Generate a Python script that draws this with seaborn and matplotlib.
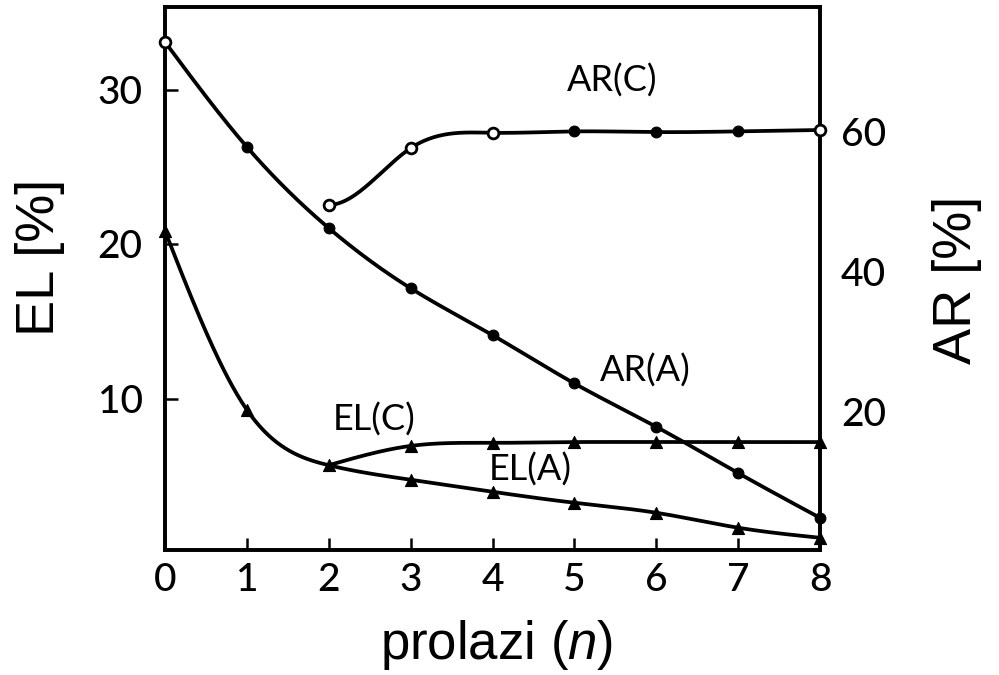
import numpy as np
import pandas as pd
import matplotlib
matplotlib.use("Agg")
import matplotlib.pyplot as plt
import seaborn as sns

# ---------------- data ----------------
passes = [0, 1, 2, 3, 4, 5, 6, 7, 8]
ar_a = [72.9, 57.9, 46.3, 37.7, 31.0, 24.1, 17.9, 11.3, 4.9]
el_a = [20.9, 9.3, 5.7, 4.76, 3.98, 3.27, 2.62, 1.65, 1.0]
passes_c = [2, 3, 4, 5, 6, 7, 8]
ar_c = [49.6, 57.7, 59.9, 60.1, 60.0, 60.1, 60.3]
el_c = [5.7, 6.95, 7.15, 7.2, 7.2, 7.2, 7.2]
xticks = [0, 1, 2, 3, 4, 5, 6, 7, 8]
el_ticks = [10, 20, 30]
ar_ticks = [20, 40, 60]

# marker styles (True = open marker)
ar_a_open = [True] + [False] * 8
ar_c_open = [True, True, True, False, False, False, True]


def spline(x, y, xs, start_slope=None):
    x = np.asarray(x, float); y = np.asarray(y, float)
    n = len(x); h = np.diff(x)
    A = np.zeros((n, n)); b = np.zeros(n)
    for i in range(1, n - 1):
        A[i, i - 1] = h[i - 1]; A[i, i] = 2 * (h[i - 1] + h[i]); A[i, i + 1] = h[i]
        b[i] = 3 * ((y[i + 1] - y[i]) / h[i] - (y[i] - y[i - 1]) / h[i - 1])
    if start_slope is None:
        A[0, 0] = 1
    else:
        A[0, 0] = 2 * h[0]; A[0, 1] = h[0]
        b[0] = 3 * ((y[1] - y[0]) / h[0] - start_slope)
    A[-1, -1] = 1
    c = np.linalg.solve(A, b)
    bc = (y[1:] - y[:-1]) / h - h * (2 * c[:-1] + c[1:]) / 3
    d = (c[1:] - c[:-1]) / (3 * h)
    idx = np.clip(np.searchsorted(x, xs, side="right") - 1, 0, n - 2)
    t = xs - x[idx]
    return y[idx] + bc[idx] * t + c[idx] * t ** 2 + d[idx] * t ** 3


def smooth(x, y, name, start_slope=None):
    xs = np.linspace(x[0], x[-1], 300)
    return pd.DataFrame({"x": xs, "y": spline(x, y, xs, start_slope), "series": name})


el_df = pd.concat([smooth(passes, el_a, "EL(A)"), smooth(passes_c, el_c, "EL(C)")])
ar_df = pd.concat([smooth(passes, ar_a, "AR(A)"), smooth(passes_c, ar_c, "AR(C)", start_slope=0.0)])

# ---------------- style ----------------
sns.set_style("white")
plt.rcParams.update({
    "font.family": ["Liberation Sans", "DejaVu Sans"],
    "text.color": "black",
    "axes.labelcolor": "black",
    "xtick.color": "black",
    "ytick.color": "black",
    "xtick.bottom": True,
    "ytick.left": True,
    "xtick.direction": "in",
    "ytick.direction": "in",
    "xtick.major.size": 9,
    "ytick.major.size": 9,
    "xtick.major.width": 1.8,
    "ytick.major.width": 1.8,
    "axes.axisbelow": False,
    "mathtext.fontset": "custom",
    "mathtext.it": "Liberation Sans:italic",
    "mathtext.rm": "Liberation Sans",
})

fig = plt.figure(figsize=(9.99, 6.75), dpi=100)
ax = fig.add_axes([0.165, 0.185, 0.656, 0.805])
ax2 = ax.twinx()

lw = 2.7
pal_el = {"EL(A)": "black", "EL(C)": "black"}
pal_ar = {"AR(A)": "black", "AR(C)": "black"}
sns.lineplot(data=el_df, x="x", y="y", hue="series", palette=pal_el, estimator=None,
             sort=False, linewidth=lw, legend=False, ax=ax)
sns.lineplot(data=ar_df, x="x", y="y", hue="series", palette=pal_ar, estimator=None,
             sort=False, linewidth=lw, legend=False, ax=ax2)

# markers
tri_kw = dict(marker="^", s=75, color="black", edgecolor="black", linewidth=0.8,
              clip_on=False, zorder=5, legend=False)
sns.scatterplot(x=passes, y=el_a, ax=ax, **tri_kw)
sns.scatterplot(x=passes_c[1:], y=el_c[1:], ax=ax, **tri_kw)


def circles(xv, yv, open_flags, axis):
    xf = [a for a, o in zip(xv, open_flags) if not o]
    yf = [b for b, o in zip(yv, open_flags) if not o]
    xo = [a for a, o in zip(xv, open_flags) if o]
    yo = [b for b, o in zip(yv, open_flags) if o]
    if xf:
        sns.scatterplot(x=xf, y=yf, ax=axis, marker="o", s=60, color="black",
                        edgecolor="black", linewidth=0.8, clip_on=False, zorder=5, legend=False)
    if xo:
        sns.scatterplot(x=xo, y=yo, ax=axis, marker="o", s=60, color="white",
                        edgecolor="black", linewidth=2.0, clip_on=False, zorder=6, legend=False)


circles(passes, ar_a, ar_a_open, ax2)
circles(passes_c, ar_c, ar_c_open, ax2)

# axes limits / ticks
ax.set_xlim(0, 8)
ax.set_ylim(0.2, 35.4)
ax2.set_ylim(0.3, 77.9)

tick_font = {"family": ["Lato", "DejaVu Sans"], "size": 28, "weight": "medium"}
ax.set_xticks(xticks)
ax.set_xticklabels([str(v) for v in xticks], fontdict=tick_font)
ax.set_yticks(el_ticks)
ax.set_yticklabels([str(v) for v in el_ticks], fontdict=tick_font)
ax2.set_yticks(ar_ticks)
ax2.set_yticklabels([str(v) for v in ar_ticks], fontdict=tick_font)

ax.tick_params(axis="x", which="major", direction="in", length=9, width=1.8, pad=9,
               bottom=True, top=False)
ax.tick_params(axis="y", which="major", direction="in", length=9, width=1.8, pad=16,
               left=True, right=False)
ax2.tick_params(axis="y", direction="in", length=0, pad=15, right=True, left=False)

for a in (ax, ax2):
    for s in a.spines.values():
        s.set_linewidth(2.6)
        s.set_color("black")

ax.set_xlabel("")
ax.set_ylabel("")
ax2.set_ylabel("")
fig.text(0.497, 0.045, "prolazi ($\\mathit{n}$)", fontsize=38, ha="center", va="center")
fig.text(0.040, 0.618, "EL [%]", fontsize=39, rotation=90, ha="center", va="center")
fig.text(0.958, 0.585, "AR [%]", fontsize=39, rotation=90, ha="center", va="center")

lab_font = dict(fontsize=26, ha="center", va="center", family=["Lato", "DejaVu Sans"])
ax2.text(5.46, 67.4, "AR(C)", **lab_font)
ax2.text(5.86, 26.0, "AR(A)", **lab_font)
ax.text(2.56, 8.64, "EL(C)", **lab_font)
ax.text(4.46, 5.4, "EL(A)", **lab_font)

fig.savefig("out.png", dpi=100)
